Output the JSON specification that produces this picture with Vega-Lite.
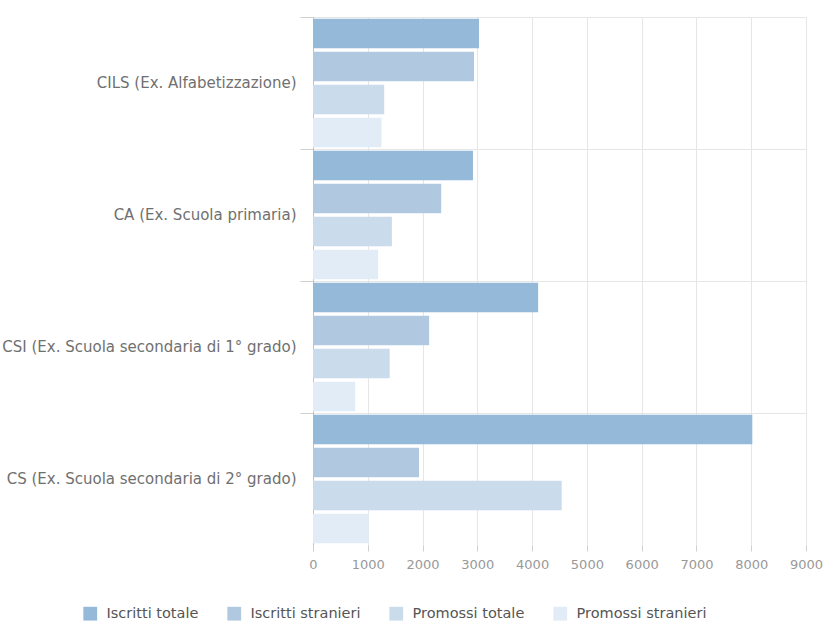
{
  "$schema": "https://vega.github.io/schema/vega-lite/v6.json",
  "autosize": "none",
  "width": 493,
  "height": 528,
  "padding": {"left": 313, "top": 17, "right": 21, "bottom": 76},
  "background": "white",
  "config": {
    "font": "DejaVu Sans",
    "view": {"stroke": null}
  },
  "data": {
    "values": [
      {"corso": "CILS (Ex. Alfabetizzazione)", "serie": "Iscritti totale", "valore": 3030},
      {"corso": "CILS (Ex. Alfabetizzazione)", "serie": "Iscritti stranieri", "valore": 2940},
      {"corso": "CILS (Ex. Alfabetizzazione)", "serie": "Promossi totale", "valore": 1300},
      {"corso": "CILS (Ex. Alfabetizzazione)", "serie": "Promossi stranieri", "valore": 1250},
      {"corso": "CA (Ex. Scuola primaria)", "serie": "Iscritti totale", "valore": 2920},
      {"corso": "CA (Ex. Scuola primaria)", "serie": "Iscritti stranieri", "valore": 2340},
      {"corso": "CA (Ex. Scuola primaria)", "serie": "Promossi totale", "valore": 1440},
      {"corso": "CA (Ex. Scuola primaria)", "serie": "Promossi stranieri", "valore": 1190},
      {"corso": "CSI (Ex. Scuola secondaria di 1° grado)", "serie": "Iscritti totale", "valore": 4110},
      {"corso": "CSI (Ex. Scuola secondaria di 1° grado)", "serie": "Iscritti stranieri", "valore": 2120},
      {"corso": "CSI (Ex. Scuola secondaria di 1° grado)", "serie": "Promossi totale", "valore": 1400},
      {"corso": "CSI (Ex. Scuola secondaria di 1° grado)", "serie": "Promossi stranieri", "valore": 770},
      {"corso": "CS (Ex. Scuola secondaria di 2° grado)", "serie": "Iscritti totale", "valore": 8020},
      {"corso": "CS (Ex. Scuola secondaria di 2° grado)", "serie": "Iscritti stranieri", "valore": 1935},
      {"corso": "CS (Ex. Scuola secondaria di 2° grado)", "serie": "Promossi totale", "valore": 4540},
      {"corso": "CS (Ex. Scuola secondaria di 2° grado)", "serie": "Promossi stranieri", "valore": 1020}
    ]
  },
  "mark": {"type": "bar"},
  "encoding": {
    "y": {
      "field": "corso",
      "type": "nominal",
      "sort": null,
      "scale": {"paddingInner": 0, "paddingOuter": 0},
      "axis": {
        "title": null,
        "bandPosition": 0,
        "grid": true,
        "gridColor": "#e6e6e6",
        "domainColor": "#c0c0c0",
        "tickColor": "#d0d0d0",
        "tickSize": 13,
        "labelFontSize": 15,
        "labelColor": "#707070",
        "labelPadding": 4,
        "labelLimit": 400
      }
    },
    "yOffset": {
      "field": "serie",
      "type": "nominal",
      "sort": ["Iscritti totale", "Iscritti stranieri", "Promossi totale", "Promossi stranieri"],
      "scale": {"paddingInner": 0.1, "paddingOuter": 0.05}
    },
    "x": {
      "field": "valore",
      "type": "quantitative",
      "scale": {"domain": [0, 9000], "nice": false},
      "axis": {
        "title": null,
        "values": [0, 1000, 2000, 3000, 4000, 5000, 6000, 7000, 8000, 9000],
        "format": "d",
        "grid": true,
        "gridColor": "#e6e6e6",
        "domain": false,
        "tickColor": "#d0d0d0",
        "tickSize": 6,
        "labelFlush": false,
        "labelFontSize": 13,
        "labelColor": "#999999",
        "labelPadding": 7
      }
    },
    "color": {
      "field": "serie",
      "type": "nominal",
      "sort": ["Iscritti totale", "Iscritti stranieri", "Promossi totale", "Promossi stranieri"],
      "scale": {
        "domain": ["Iscritti totale", "Iscritti stranieri", "Promossi totale", "Promossi stranieri"],
        "range": ["#95b9d8", "#b0c9e1", "#cadbeb", "#e2ecf6"]
      },
      "legend": {
        "title": null,
        "orient": "none",
        "direction": "horizontal",
        "legendX": -230,
        "legendY": 589,
        "symbolType": "square",
        "symbolSize": 190,
        "symbolStrokeWidth": 0,
        "labelFontSize": 14.5,
        "labelColor": "#555555",
        "labelOffset": 9,
        "columnPadding": 28
      }
    }
  }
}
